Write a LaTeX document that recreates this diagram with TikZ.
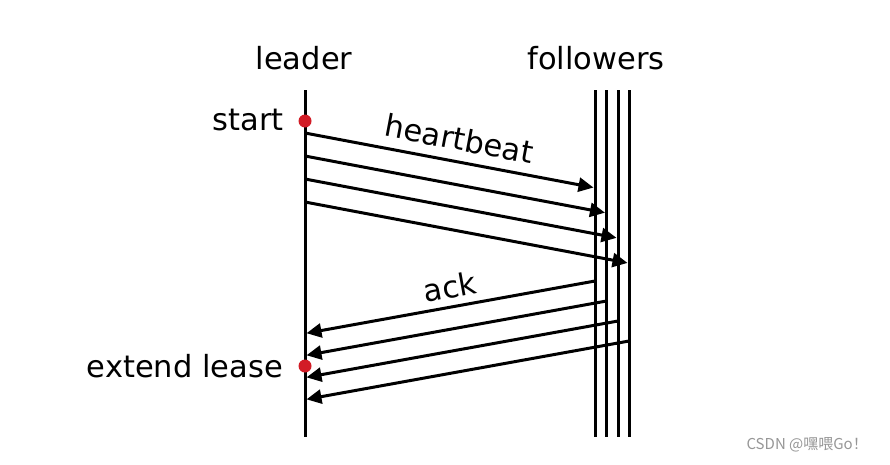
\documentclass[tikz,border=0pt]{standalone}
\usepackage{fontspec}
\setmainfont{DejaVu Sans}
\newfontfamily\cjkfont{Noto Sans CJK SC}
\usetikzlibrary{arrows.meta}
\definecolor{leasered}{RGB}{210, 28, 38}
\definecolor{markgray}{RGB}{150, 150, 150}

\begin{document}
\begin{tikzpicture}[x=1pt, y=-1pt,
    timeline/.style={line width=3pt},
    msg/.style={line width=3pt, -{Triangle[length=15pt, width=14pt]}},
    lbl/.style={font=\fontsize{30.5}{36}\selectfont, inner sep=0pt},
    event/.style={circle, fill=leasered, inner sep=0pt, minimum size=13pt}]
  \useasboundingbox (0,0) rectangle (890,464);
  \coordinate (leader top) at (305,90);
  \coordinate (leader bot) at (305,437);
  \draw[timeline] (leader top) -- (leader bot);
  \node[lbl, anchor=base] (leader) at (304,69) {leader};
  \foreach \i/\x in {0/595, 1/606.5, 2/618, 3/629} {
    \coordinate (f top \i) at (\x,90);
    \coordinate (f bot \i) at (\x,437);
    \draw[timeline] (f top \i) -- (f bot \i);
  }
  \node[lbl, anchor=base] (followers) at (596,69) {followers};
  % heartbeats out, acks back
  \foreach \i/\x in {0/595, 1/606.5, 2/618, 3/629} {
    \pgfmathsetmacro\hy{133+23*\i}
    \pgfmathsetmacro\ay{281+20*\i}
    \coordinate (hb out \i) at (305,\hy);
    \coordinate (hb in \i) at (\x-1.5, {\hy+0.188*(\x-305)});
    \coordinate (ack out \i) at (\x,\ay);
    \coordinate (ack in \i) at (306.5, {\ay+0.18*(\x-305)});
    \draw[msg] (hb out \i) -- (hb in \i);
    \draw[msg] (ack out \i) -- (ack in \i);
  }
  \path (hb out 0) -- node[lbl, sloped, above=11pt, pos=0.52] (hb label) {heartbeat} (hb in 0);
  \path (ack out 0) -- node[lbl, sloped, above=8pt, pos=0.49] (ack label) {ack} (ack in 0);
  \node[event] (start dot) at (305,121) {};
  \node[event] (lease dot) at (305,366) {};
  \node[lbl, anchor=base east] (start) at (284,130) {start};
  \node[lbl, anchor=base east] (lease) at (283,377) {extend lease};
  \node[font=\cjkfont\fontsize{15}{17}\selectfont, text=markgray, inner sep=0pt,
        anchor=base east] (mark) at (868,449) {CSDN @嘿喂Go！};
\end{tikzpicture}
\end{document}
